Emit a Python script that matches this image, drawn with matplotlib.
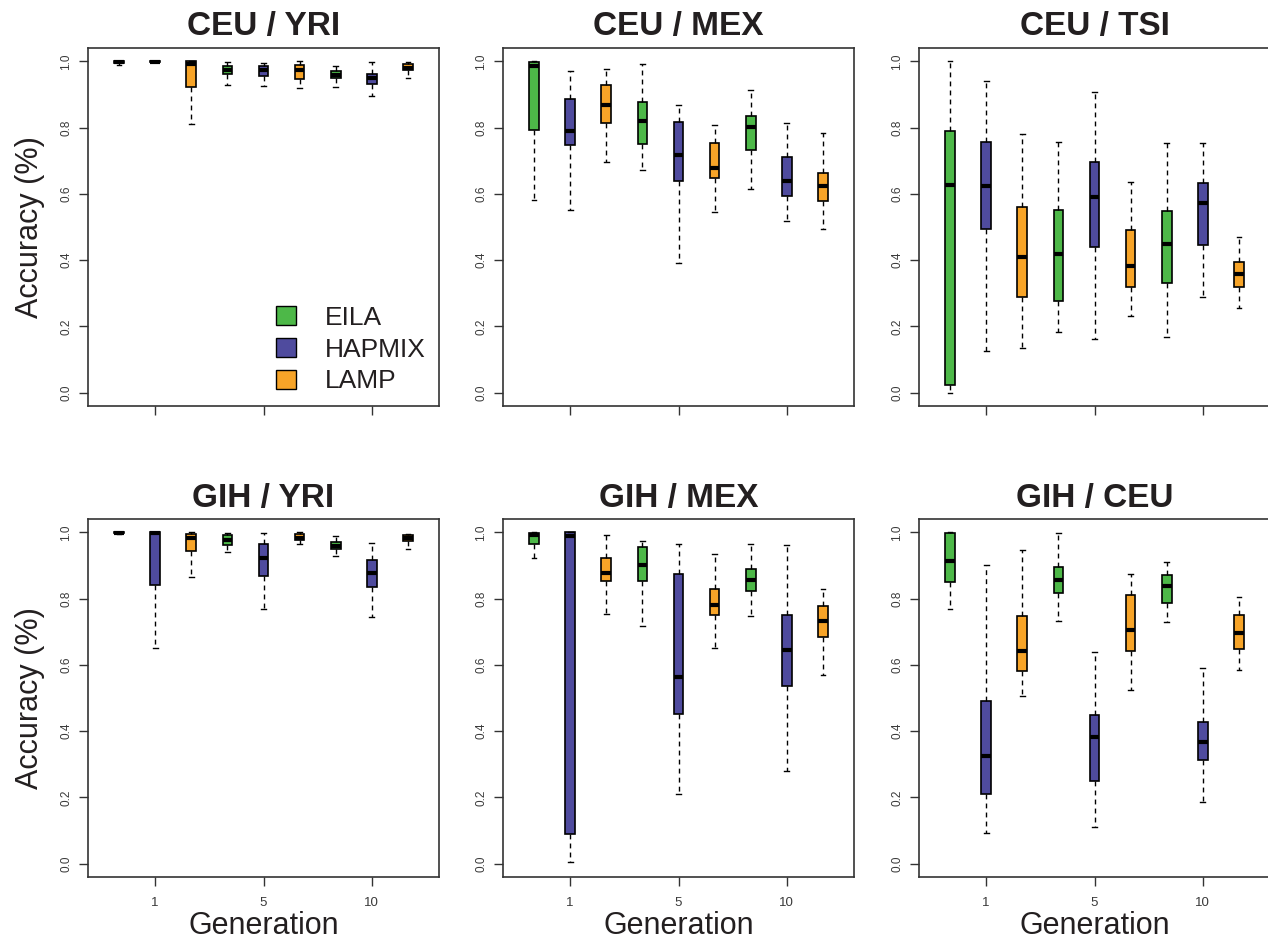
import matplotlib
matplotlib.use("Agg")
import matplotlib.pyplot as plt
from matplotlib.patches import Patch

plt.rcParams['font.family'] = ['Liberation Sans', 'DejaVu Sans']

methods = ["EILA", "HAPMIX", "LAMP"]
colors = {"EILA": "#4DB848", "HAPMIX": "#4F4B9E", "LAMP": "#F7A428"}
generations = ["1", "5", "10"]
y_ticks = [0.0, 0.2, 0.4, 0.6, 0.8, 1.0]
y_ticklabels = ["0.0", "0.2", "0.4", "0.6", "0.8", "1.0"]

# each row: [lower whisker, Q1, median, Q3, upper whisker]; order: gen1 (EILA, HAPMIX, LAMP), gen5, gen10
CEU_YRI = [
    [0.990, 0.995, 0.998, 1.000, 1.000],
    [0.997, 0.998, 0.999, 1.000, 1.000],
    [0.812, 0.923, 0.993, 1.000, 1.000],
    [0.928, 0.963, 0.975, 0.987, 0.997],
    [0.925, 0.957, 0.973, 0.987, 0.995],
    [0.920, 0.947, 0.975, 0.990, 1.000],
    [0.923, 0.948, 0.960, 0.972, 0.985],
    [0.894, 0.932, 0.948, 0.961, 0.997],
    [0.948, 0.974, 0.980, 0.993, 0.998],
]
CEU_MEX = [
    [0.581, 0.794, 0.985, 0.997, 1.000],
    [0.551, 0.748, 0.789, 0.886, 0.972],
    [0.697, 0.813, 0.869, 0.927, 0.976],
    [0.672, 0.749, 0.819, 0.876, 0.993],
    [0.392, 0.638, 0.717, 0.817, 0.869],
    [0.545, 0.648, 0.678, 0.754, 0.807],
    [0.616, 0.733, 0.801, 0.835, 0.913],
    [0.518, 0.593, 0.640, 0.710, 0.813],
    [0.493, 0.579, 0.625, 0.663, 0.783],
]
CEU_TSI = [
    [0.000, 0.024, 0.628, 0.789, 1.000],
    [0.126, 0.493, 0.625, 0.757, 0.940],
    [0.135, 0.290, 0.410, 0.559, 0.782],
    [0.183, 0.278, 0.420, 0.550, 0.755],
    [0.161, 0.441, 0.589, 0.696, 0.907],
    [0.233, 0.318, 0.381, 0.492, 0.635],
    [0.168, 0.330, 0.449, 0.549, 0.753],
    [0.288, 0.446, 0.571, 0.634, 0.754],
    [0.257, 0.320, 0.359, 0.393, 0.469],
]
GIH_YRI = [
    [0.996, 0.997, 0.999, 1.000, 1.000],
    [0.650, 0.841, 0.999, 1.000, 1.000],
    [0.864, 0.943, 0.984, 0.996, 1.000],
    [0.941, 0.961, 0.977, 0.991, 0.999],
    [0.769, 0.868, 0.922, 0.965, 0.999],
    [0.965, 0.977, 0.982, 0.996, 1.000],
    [0.927, 0.951, 0.960, 0.972, 0.990],
    [0.745, 0.834, 0.877, 0.916, 0.968],
    [0.950, 0.973, 0.982, 0.991, 0.996],
]
GIH_MEX = [
    [0.923, 0.966, 0.991, 0.999, 1.000],
    [0.004, 0.089, 0.990, 1.000, 1.000],
    [0.753, 0.853, 0.876, 0.921, 0.991],
    [0.716, 0.852, 0.901, 0.957, 0.975],
    [0.211, 0.451, 0.562, 0.873, 0.966],
    [0.650, 0.750, 0.780, 0.829, 0.934],
    [0.747, 0.823, 0.856, 0.888, 0.966],
    [0.280, 0.535, 0.646, 0.749, 0.962],
    [0.570, 0.685, 0.731, 0.777, 0.830],
]
GIH_CEU = [
    [0.767, 0.850, 0.914, 0.999, 1.000],
    [0.092, 0.211, 0.326, 0.490, 0.901],
    [0.506, 0.581, 0.641, 0.746, 0.947],
    [0.731, 0.818, 0.856, 0.896, 0.999],
    [0.111, 0.249, 0.382, 0.449, 0.639],
    [0.523, 0.643, 0.705, 0.812, 0.874],
    [0.728, 0.788, 0.837, 0.872, 0.911],
    [0.186, 0.314, 0.368, 0.429, 0.591],
    [0.583, 0.647, 0.697, 0.749, 0.805],
]

panels = [
    ("CEU / YRI", CEU_YRI), ("CEU / MEX", CEU_MEX), ("CEU / TSI", CEU_TSI),
    ("GIH / YRI", GIH_YRI), ("GIH / MEX", GIH_MEX), ("GIH / CEU", GIH_CEU),
]

W, H = 1268, 942
fig = plt.figure(figsize=(W / 100, H / 100), dpi=100)
text_col = "#231F20"
lefts = [88, 503, 919]
tops = [48, 519]
aw, ah = 351, 358

for idx, (title, data) in enumerate(panels):
    r, c = divmod(idx, 3)
    ax = fig.add_axes([lefts[c] / W, 1 - (tops[r] + ah) / H, aw / W, ah / H])
    stats = []
    for lo, q1, med, q3, hi in data:
        stats.append(dict(whislo=lo, q1=q1, med=med, q3=q3, whishi=hi, fliers=[]))
    positions = list(range(1, 10))
    bp = ax.bxp(stats, positions=positions, widths=0.27, capwidths=0.13,
                patch_artist=True, showfliers=False, manage_ticks=False,
                boxprops=dict(edgecolor="black", linewidth=1.2),
                whiskerprops=dict(color="black", linewidth=1.0, linestyle=(0, (3.5, 3))),
                capprops=dict(color="black", linewidth=1.0),
                medianprops=dict(color="black", linewidth=3.0, solid_capstyle="butt"))
    for i, patch in enumerate(bp["boxes"]):
        patch.set_facecolor(colors[methods[i % 3]])
    ax.set_xlim(0.14, 9.86)
    ax.set_ylim(-0.04, 1.04)
    ax.set_yticks(y_ticks)
    ax.set_yticklabels(y_ticklabels, rotation=90, va="center", fontsize=8.5, color="#3a3a3a")
    ax.set_xticks([2, 5, 8])
    if r == 1:
        ax.set_xticklabels(generations, fontsize=9.5, color="#3a3a3a")
        ax.set_xlabel("Generation", fontsize=22, color=text_col, labelpad=1)
    else:
        ax.set_xticklabels(["", "", ""])
    ax.tick_params(axis="both", length=6.5, width=1.0, color="#333333")
    ax.tick_params(axis="y", pad=5)
    ax.tick_params(axis="x", pad=8)
    for s in ax.spines.values():
        s.set_linewidth(1.2)
        s.set_color("#333333")
    ax.set_title(title, fontsize=24, fontweight="bold", color=text_col, pad=9)
    if c == 0:
        ax.set_ylabel("Accuracy (%)", fontsize=22, color=text_col, labelpad=11)
    if idx == 0:
        handles = [Patch(facecolor=colors[m], edgecolor="black", linewidth=1.0) for m in methods]
        ax.legend(handles, methods, loc="lower left", bbox_to_anchor=(0.535, 0.035),
                  frameon=False, fontsize=19, handlelength=0.75, handleheight=0.75,
                  handletextpad=1.1, labelspacing=0.3, borderpad=0, borderaxespad=0,
                  labelcolor=text_col)

fig.savefig("out.png", dpi=100)
